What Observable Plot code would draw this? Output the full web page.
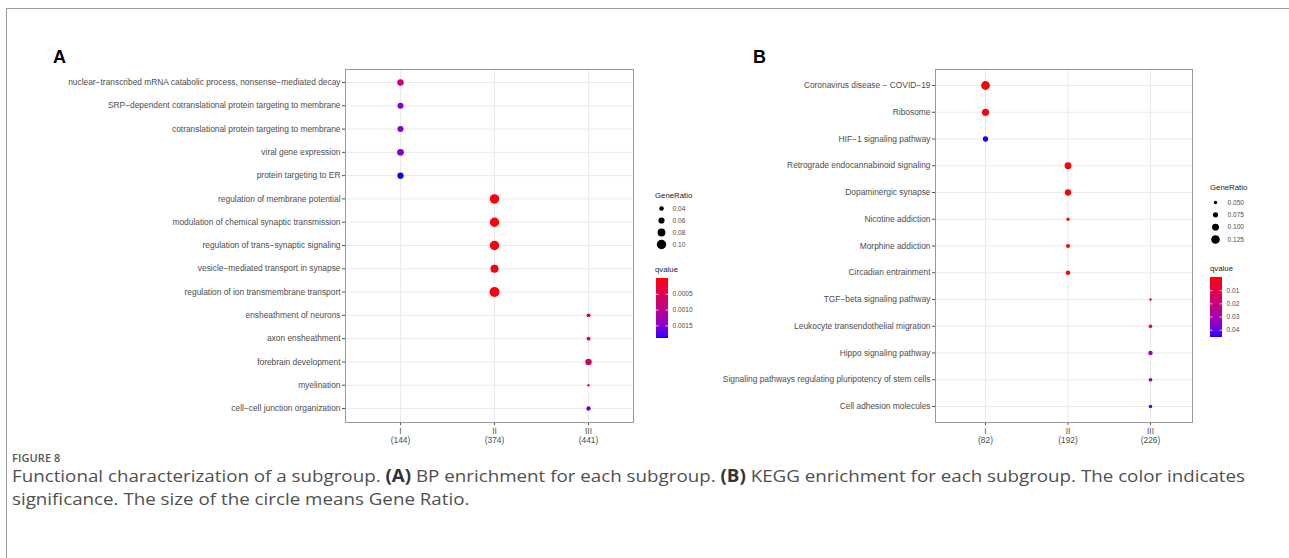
<!DOCTYPE html>
<html><head><meta charset="utf-8">
<script src="https://cdn.jsdelivr.net/npm/d3@7"></script>
<script src="https://cdn.jsdelivr.net/npm/@observablehq/plot@0.6"></script>
<style>
body{margin:0;background:#fff;}
#root{position:relative;width:1289px;height:558px;overflow:hidden;font-family:"Liberation Sans",Arial,sans-serif;background:#fff;}
.card{position:absolute;left:6px;top:8px;width:1400px;height:700px;border-top:1px solid #9a9a9a;border-left:1px solid #9a9a9a;}
.plab{position:absolute;font-weight:bold;font-size:18px;color:#000;font-family:"Liberation Sans",Arial,sans-serif;}
.ltitle{position:absolute;font-size:7.8px;color:#222;font-family:"Liberation Sans",Arial,sans-serif;}
.fig{position:absolute;left:12px;top:452px;font-family:"Open Sans","Noto Sans",sans-serif;font-size:11px;line-height:12px;font-weight:600;color:#555;letter-spacing:0.1px;}
.capline{position:absolute;left:12px;white-space:nowrap;font-family:"Open Sans","Noto Sans",sans-serif;font-size:17px;line-height:20px;color:#505050;transform-origin:0 0;}
.capline b{font-weight:700;color:#333;}
svg{position:absolute;overflow:visible;}
</style></head><body><div id="root"><div class="card"></div></div>
<script>
// ---------- Panel A data (BP enrichment) ----------
const termsA = [
  "nuclear−transcribed mRNA catabolic process, nonsense−mediated decay",
  "SRP−dependent cotranslational protein targeting to membrane",
  "cotranslational protein targeting to membrane",
  "viral gene expression",
  "protein targeting to ER",
  "regulation of membrane potential",
  "modulation of chemical synaptic transmission",
  "regulation of trans−synaptic signaling",
  "vesicle−mediated transport in synapse",
  "regulation of ion transmembrane transport",
  "ensheathment of neurons",
  "axon ensheathment",
  "forebrain development",
  "myelination",
  "cell−cell junction organization"
];
const groupA = ["I","I","I","I","I","II","II","II","II","II","III","III","III","III","III"];
const ratioA = [0.062,0.058,0.058,0.068,0.060,0.100,0.100,0.100,0.083,0.108,0.032,0.032,0.062,0.012,0.037];
const qvalA  = [0.00085,0.0015,0.0015,0.0015,0.0019,0.00002,0.00002,0.00002,0.00003,0.00004,0.0002,0.0002,0.0007,0.0004,0.0017];
const levelsA = ["I","II","III"];
const countsA = [144,374,441];
const sizeTicksA = [0.04,0.06,0.08,0.10];
const qTicksA = [0.0005,0.0010,0.0015];
const qDomainA = [0, 0.0019];

// ---------- Panel B data (KEGG enrichment) ----------
const termsB = [
  "Coronavirus disease − COVID−19",
  "Ribosome",
  "HIF−1 signaling pathway",
  "Retrograde endocannabinoid signaling",
  "Dopaminergic synapse",
  "Nicotine addiction",
  "Morphine addiction",
  "Circadian entrainment",
  "TGF−beta signaling pathway",
  "Leukocyte transendothelial migration",
  "Hippo signaling pathway",
  "Signaling pathways regulating pluripotency of stem cells",
  "Cell adhesion molecules"
];
const groupB = ["I","I","I","II","II","II","II","II","III","III","III","III","III"];
const ratioB = [0.128,0.105,0.078,0.100,0.092,0.048,0.060,0.065,0.035,0.055,0.065,0.055,0.052];
const qvalB  = [0.0005,0.001,0.045,0.0005,0.0008,0.001,0.001,0.001,0.006,0.008,0.032,0.034,0.042];
const levelsB = ["I","II","III"];
const countsB = [82,192,226];
const sizeTicksB = [0.050,0.075,0.100,0.125];
const qTicksB = [0.01,0.02,0.03,0.04];
const qDomainB = [0, 0.0455];

const root = document.getElementById("root");
const FONT = '"Liberation Sans", Arial, sans-serif';

function place(el, L, T){ el.style.left = L+"px"; el.style.top = T+"px"; root.appendChild(el); }

function colorOpts(dom){ return {type:"linear", domain:dom, range:["red","blue"], interpolate:"lab"}; }

function panel(o){
  const data = o.terms.map((t,i)=>({term:t, group:o.groups[i], ratio:o.ratios[i], q:o.qs[i]}));
  const L = o.L, T = o.T;
  const [fx1,fy1,fx2,fy2] = o.frame;
  const W = fx2 - L + 4, H = fy2 - T + 30;
  const svg = Plot.plot({
    width: W, height: H,
    marginLeft: fx1 - L, marginRight: W - (fx2 - L), marginTop: fy1 - T, marginBottom: H - (fy2 - T),
    style: {background:"transparent", color:"#4d4d4d", fontFamily:FONT, fontSize:"8px", maxWidth:"none"},
    x: {type:"point", domain:o.levels, range:[o.xs[0]-L, o.xs[1]-L], padding:0, round:false},
    y: {type:"point", domain:o.terms, range:[o.ys[0]-T, o.ys[1]-T], padding:0, round:false},
    r: {type:"linear", domain:o.rDomain, range:o.rRange},
    color: colorOpts(o.qDomain),
    marks: [
      Plot.gridX({stroke:"#ebebeb", strokeOpacity:1, strokeWidth:1}),
      Plot.gridY({stroke:"#ebebeb", strokeOpacity:1, strokeWidth:1}),
      Plot.axisY({tickSize:3, tickPadding:2, fontSize:8.4, label:null, stroke:"#555"}),
      Plot.axisX({tickSize:3, tickPadding:2, fontSize:8.4, label:null, stroke:"#555", lineHeight:1.05,
        tickFormat: d => d + "\n(" + o.counts[o.levels.indexOf(d)] + ")"}),
      Plot.frame({stroke:"#9a9a9a", strokeWidth:1}),
      Plot.dot(data, {x:"group", y:"term", r:"ratio", fill:"q", stroke:null})
    ]
  });
  place(svg, L, T);
}

function sizeLegend(o){
  const L = o.L, T = o.T;
  const svg = Plot.plot({
    width: 60, height: 70, margin: 0,
    style: {background:"transparent", color:"#4d4d4d", fontFamily:FONT, maxWidth:"none"},
    x: {domain:[0,1], range:[o.dotX-L, o.dotX-L+10], axis:null},
    y: {type:"point", domain:o.ticks, range:[o.ys[0]-T, o.ys[1]-T], padding:0, round:false, axis:null},
    r: {type:"linear", domain:o.rDomain, range:o.rRange},
    marks: [
      Plot.dot(o.ticks, {x:0, y:d=>d, r:d=>d, fill:"black", stroke:null}),
      Plot.text(o.ticks, {x:0, y:d=>d, text:o.fmt, dx:o.labelDx, textAnchor:"start", fontSize:6.6, fill:"#4d4d4d"})
    ]
  });
  place(svg, L, T);
}

function colorLegend(o){
  const L = o.L, T = o.T;
  const [d0,d1] = o.qDomain;
  const N = 80, step = (d1-d0)/N;
  const steps = d3.range(N).map(i => d0 + i*step);
  const svg = Plot.plot({
    width: 60, height: 90, margin: 0,
    style: {background:"transparent", color:"#4d4d4d", fontFamily:FONT, maxWidth:"none"},
    x: {domain:[0,1], range:[o.bar[0]-L, o.bar[2]-L], axis:null},
    y: {domain:[d0,d1], range:[o.bar[1]-T, o.bar[3]-T], axis:null},
    color: colorOpts(o.qDomain),
    marks: [
      Plot.rect(steps, {x1:0, x2:1, y1:d=>d, y2:d=>Math.min(d1, d+step*2), fill:d=>d+step/2, inset:0, shapeRendering:"crispEdges"}),
      Plot.ruleY(o.ticks, {y:d=>d, x1:0, x2:0.2, stroke:"white", strokeWidth:0.8}),
      Plot.ruleY(o.ticks, {y:d=>d, x1:0.8, x2:1, stroke:"white", strokeWidth:0.8}),
      Plot.text(o.ticks, {x:1, y:d=>d, text:o.fmt, dx:4, textAnchor:"start", fontSize:6.6, fill:"#4d4d4d"})
    ]
  });
  place(svg, L, T);
}

function title(txt, x, y){
  const d = document.createElement("div"); d.className = "ltitle"; d.textContent = txt;
  d.style.left = x+"px"; d.style.top = y+"px"; root.appendChild(d);
}

// Panel A
panel({terms:termsA, groups:groupA, ratios:ratioA, qs:qvalA, levels:levelsA, counts:countsA,
  L:0, T:40, frame:[345,69,633,422], xs:[400,588], ys:[82,408],
  rDomain:[0.04,0.10], rRange:[2.3,4.7], qDomain:qDomainA});
title("GeneRatio", 655, 191);
sizeLegend({L:650, T:200, dotX:661, ys:[208,244], ticks:sizeTicksA, rDomain:[0.04,0.10], rRange:[2.3,4.7],
  fmt:d=>d.toFixed(2), labelDx:11});
title("qvalue", 655, 265);
colorLegend({L:650, T:270, bar:[656,278,668,338], qDomain:qDomainA, ticks:qTicksA, fmt:d=>d.toFixed(4)});

// Panel B
panel({terms:termsB, groups:groupB, ratios:ratioB, qs:qvalB, levels:levelsB, counts:countsB,
  L:680, T:40, frame:[935,69,1192,422], xs:[985,1150], ys:[85,406],
  rDomain:[0.05,0.125], rRange:[1.7,4.3], qDomain:qDomainB});
title("GeneRatio", 1210, 183);
sizeLegend({L:1205, T:195, dotX:1215, ys:[202,239], ticks:sizeTicksB, rDomain:[0.05,0.125], rRange:[1.7,4.3],
  fmt:d=>d.toFixed(3), labelDx:12});
title("qvalue", 1210, 264);
colorLegend({L:1205, T:270, bar:[1210,277,1222,337], qDomain:qDomainB, ticks:qTicksB, fmt:d=>d.toFixed(2)});

// Panel letters
const la = document.createElement("div"); la.className="plab"; la.textContent="A"; la.style.left="53px"; la.style.top="47px"; root.appendChild(la);
const lb = document.createElement("div"); lb.className="plab"; lb.textContent="B"; lb.style.left="753px"; lb.style.top="47px"; root.appendChild(lb);

// Caption
const fg = document.createElement("div"); fg.className="fig"; fg.textContent="FIGURE 8"; root.appendChild(fg);
const capLines = [
  'Functional characterization of a subgroup. <b>(A)</b> BP enrichment for each subgroup. <b>(B)</b> KEGG enrichment for each subgroup. The color indicates',
  'significance. The size of the circle means Gene Ratio.'
];
const capTops = [466, 489];
const lineEls = capLines.map((h,i)=>{
  const d = document.createElement("div"); d.className="capline"; d.innerHTML = h; d.style.top = capTops[i]+"px";
  root.appendChild(d); return d;
});
const targetW = 1233;
const k = targetW / lineEls[0].getBoundingClientRect().width;
lineEls.forEach(d => d.style.transform = "scaleX(" + k + ")");
</script>
</body></html>
